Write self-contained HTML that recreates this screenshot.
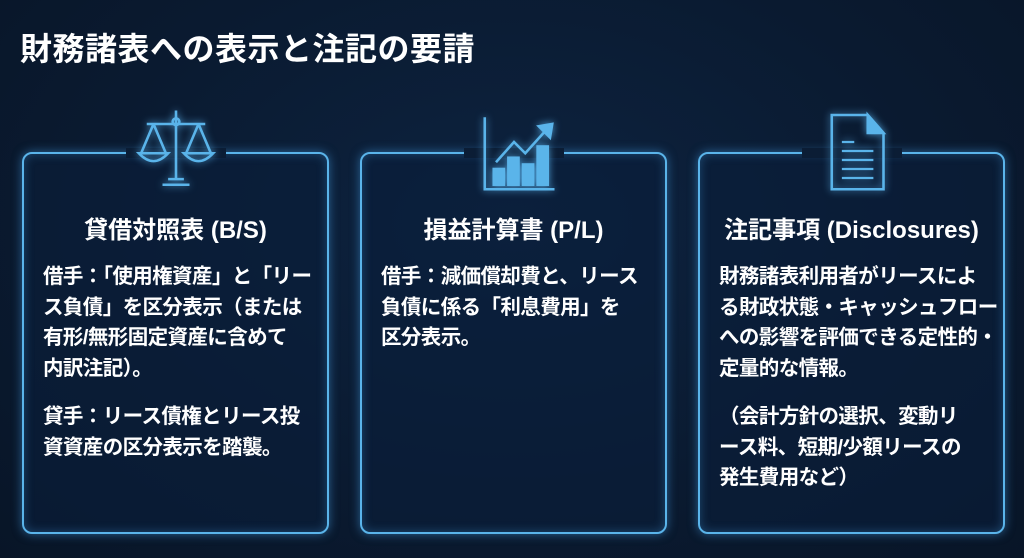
<!DOCTYPE html>
<html><head><meta charset="utf-8"><style>
*{margin:0;padding:0;box-sizing:border-box}
body{width:1024px;height:558px;overflow:hidden;background:radial-gradient(ellipse at 50% 40%,#0d2340 0%,#0a1a30 60%,#081527 100%);font-family:"Liberation Sans","Noto Sans CJK JP",sans-serif;color:#fff;position:relative}
h1{position:absolute;left:20px;top:24px;font-size:32px;font-weight:700;letter-spacing:0.5px;white-space:nowrap}
.box{position:absolute;top:152px;width:307px;height:382px;border:2px solid #5ab4ea;border-radius:10px;background:rgba(10,30,58,0.6);box-shadow:0 0 10px rgba(70,160,230,0.55),inset 0 0 10px rgba(70,160,230,0.35)}
.gap{position:absolute;top:-6px;left:102px;width:100px;height:10px;background:#0b1d35}
.icon{position:absolute;top:-48px;left:107px;width:90px;height:90px;filter:drop-shadow(0 0 4px rgba(90,180,240,0.8))}
.hd{position:absolute;top:56px;left:0;width:100%;text-align:center;font-size:24px;font-weight:700;white-space:nowrap}
.bd{position:absolute;left:19px;top:108px;font-size:20.5px;letter-spacing:-0.6px;line-height:30.5px;font-weight:700;white-space:nowrap}
.bd p+p{margin-top:18px}
</style></head><body>
<h1>財務諸表への表示と注記の要請</h1>

<div class="box" style="left:22px">
<div class="gap"></div>
<svg class="icon" viewBox="0 0 80 80" fill="none" stroke="#5ab4ea" stroke-width="2.3">
<line x1="40" y1="4" x2="40" y2="64"/><circle cx="40" cy="14" r="3"/>
<line x1="14" y1="16" x2="66" y2="16"/>
<path d="M20 16 L9 42 M20 16 L31 42 M60 16 L49 42 M60 16 L71 42"/>
<path d="M7 42 Q20 56 33 42 Z M47 42 Q60 56 73 42 Z"/>
<path d="M28 70 L52 70 M33 65 L47 65"/>
</svg>
<div class="hd">貸借対照表 (B/S)</div>
<div class="bd"><p>借手：「使用権資産」と「リー<br>ス負債」を区分表示（または<br>有形/無形固定資産に含めて<br>内訳注記）。</p><p>貸手：リース債権とリース投<br>資資産の区分表示を踏襲。</p></div>
</div>

<div class="box" style="left:360px">
<div class="gap"></div>
<svg class="icon" viewBox="0 0 80 80" fill="none" stroke="#5ab4ea" stroke-width="2.3">
<path d="M14 10 L14 74 L76 74"/>
<rect x="22" y="56" width="9" height="14" fill="#5ab4ea"/><rect x="35" y="46" width="9" height="24" fill="#5ab4ea"/><rect x="48" y="52" width="9" height="18" fill="#5ab4ea"/><rect x="61" y="36" width="9" height="34" fill="#5ab4ea"/>
<path d="M24 50 L40 32 L50 42 L68 22"/><path d="M62 18 L74 16 L72 28 Z" fill="#5ab4ea"/>
</svg>
<div class="hd">損益計算書 (P/L)</div>
<div class="bd"><p>借手：減価償却費と、リース<br>負債に係る「利息費用」を<br>区分表示。</p></div>
</div>

<div class="box" style="left:698px">
<div class="gap"></div>
<svg class="icon" viewBox="0 0 80 80" fill="none" stroke="#5ab4ea" stroke-width="2.3">
<path d="M22 8 L54 8 L68 24 L68 74 L22 74 Z"/><path d="M54 8 L54 24 L68 24 Z" fill="#5ab4ea"/>
<path d="M31 32 L42 32 M31 40 L59 40 M31 48 L59 48 M31 56 L59 56 M31 64 L59 64" stroke-width="2"/>
</svg>
<div class="hd">注記事項 (Disclosures)</div>
<div class="bd"><p>財務諸表利用者がリースによ<br>る財政状態・キャッシュフロー<br>への影響を評価できる定性的・<br>定量的な情報。</p><p>（会計方針の選択、変動リ<br>ース料、短期/少額リースの<br>発生費用など）</p></div>
</div>
</body></html>
